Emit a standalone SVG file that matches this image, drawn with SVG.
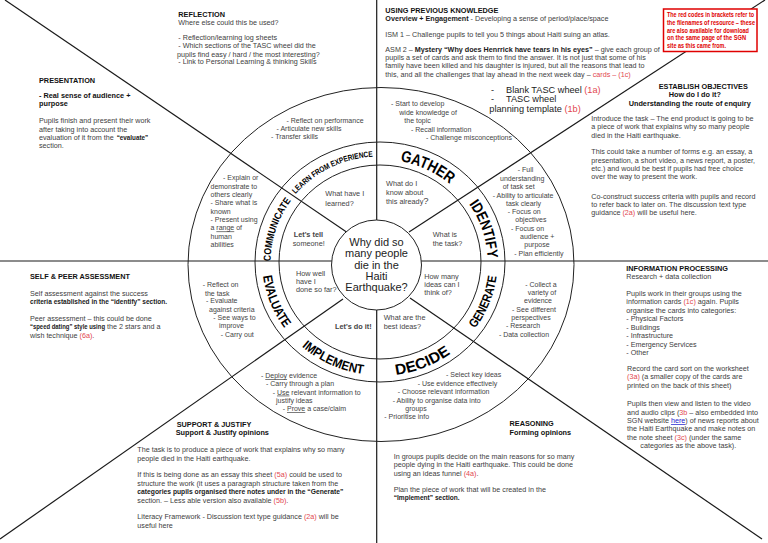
<svg xmlns="http://www.w3.org/2000/svg" width="768" height="543" viewBox="0 0 768 543">
<defs>
<style>
text { font-family: "Liberation Sans", Arial, sans-serif; }
.b7 { font-size: 7.2px; fill: #404040; }
.hd { font-size: 7.3px; font-weight: bold; fill: #111; }
.bd { font-weight: bold; fill: #1a1a1a; }
.red { fill: #e2474f; }
.w { font-size: 7px; fill: #444; }
.q { font-size: 7.3px; fill: #444; }
.ctr { font-size: 11px; fill: #222; text-anchor: middle; }
.ring { font-weight: bold; fill: #000; }
.ln { stroke: #1a1a1a; stroke-width: 1.2; fill: none; }
.circ { stroke: #222; stroke-width: 1; fill: none; }
.u { text-decoration: underline; }
.lg { font-size: 9.2px; fill: #222; }
.note { font-size: 6.3px; font-weight: bold; fill: #e00000; }
.mid { text-anchor: middle; }
</style>
<path id="pGather" d="M363.2,160.6 A107.2,102.7 0 0 1 473.8,212.2"/>
<path id="pIdentify" d="M444.8,179.7 A107.6,103.1 0 0 1 482.9,292.1"/>
<path id="pLearn" d="M282.8,212.4 A110.1,105.6 0 0 1 395.3,157.4"/>
<path id="pComm" d="M275.4,292.8 A109.4,104.9 0 0 1 314.0,178.3"/>
<path id="pEval" d="M265.7,235.0 A117.7,113.2 0 0 0 314.5,356.1"/>
<path id="pImpl" d="M277.9,318.3 A117.7,113.2 0 0 0 400.0,373.5"/>
<path id="pDecide" d="M354.2,373.2 A118.4,113.9 0 0 0 479.7,323.4"/>
<path id="pGen" d="M444.9,356.2 A117.5,113 0 0 0 494.3,235.6"/>
</defs>
<rect x="0" y="0" width="768" height="543" fill="#fff"/>

<g id="connectors">
<line class="ln" x1="376.7" y1="0" x2="376.7" y2="543"/>
<line class="ln" x1="0" y1="261" x2="768" y2="261"/>
<line class="ln" x1="5" y1="0" x2="348" y2="233"/>
<line class="ln" x1="765" y1="0" x2="409" y2="232"/>
<line class="ln" x1="0" y1="539" x2="343" y2="299"/>
<line class="ln" x1="762" y1="539" x2="410" y2="298"/>
</g>

<g id="wheel">
<ellipse class="circ" cx="381" cy="264.5" rx="193" ry="177"/>
<ellipse class="circ" cx="380" cy="262" rx="125" ry="120"/>
<ellipse class="circ" cx="380" cy="262" rx="101" ry="97"/>
<g id="ring-labels">
<text class="ring" font-size="16"><textPath href="#pGather" startOffset="50%" text-anchor="middle" textLength="55" lengthAdjust="spacingAndGlyphs">GATHER</textPath></text>
<text class="ring" font-size="15"><textPath href="#pIdentify" startOffset="50%" text-anchor="middle" textLength="58" lengthAdjust="spacingAndGlyphs">IDENTIFY</textPath></text>
<text class="ring" font-size="8"><textPath href="#pLearn" startOffset="50%" text-anchor="middle" textLength="88" lengthAdjust="spacingAndGlyphs">LEARN FROM EXPERIENCE</textPath></text>
<text class="ring" font-size="10"><textPath href="#pComm" startOffset="50%" text-anchor="middle" textLength="65" lengthAdjust="spacingAndGlyphs">COMMUNICATE</textPath></text>
<text class="ring" font-size="13"><textPath href="#pEval" startOffset="50%" text-anchor="middle" textLength="57" lengthAdjust="spacingAndGlyphs">EVALUATE</textPath></text>
<text class="ring" font-size="13"><textPath href="#pImpl" startOffset="50%" text-anchor="middle" textLength="68" lengthAdjust="spacingAndGlyphs">IMPLEMENT</textPath></text>
<text class="ring" font-size="15"><textPath href="#pDecide" startOffset="50%" text-anchor="middle" textLength="59" lengthAdjust="spacingAndGlyphs">DECIDE</textPath></text>
<text class="ring" font-size="12.5"><textPath href="#pGen" startOffset="50%" text-anchor="middle" textLength="57" lengthAdjust="spacingAndGlyphs">GENERATE</textPath></text>
</g>
<g id="center">
<circle cx="376.5" cy="265" r="45" fill="#fff" stroke="#222" stroke-width="1"/>
<text class="ctr" x="376.5" y="246">Why did so</text>
<text class="ctr" x="376.5" y="257.3">many people</text>
<text class="ctr" x="376.5" y="268.6">die in the</text>
<text class="ctr" x="376.5" y="279.9">Haiti</text>
<text class="ctr" x="376.5" y="291.2">Earthquake?</text>
</g>
<g id="questions">
<text class="q" x="325.3" y="196">What have I</text>
<text class="q" x="325.3" y="205.5">learned?</text>
<text class="q" x="386" y="186">What do I</text>
<text class="q" x="386" y="194.5">know about</text>
<text class="q" x="386" y="204">this already<tspan font-size="9.5">?</tspan></text>
<text class="q" x="432.7" y="236.8">What is</text>
<text class="q" x="432.7" y="245.5">the task?</text>
<text class="q bd" x="293.7" y="236.8">Let's tell</text>
<text class="q" x="292.7" y="245.5">someone!</text>
<text class="q" x="296" y="275.8">How well</text>
<text class="q" x="296" y="283.5">have I</text>
<text class="q" x="296" y="291.8">done so far?</text>
<text class="q" x="424.3" y="279">How many</text>
<text class="q" x="424.3" y="287">ideas can I</text>
<text class="q" x="424.3" y="295">think of?</text>
<text class="q" x="383.7" y="319.5">What are the</text>
<text class="q" x="383.7" y="328.5">best ideas?</text>
<text class="q bd" x="335" y="328.5">Let's do it!</text>
</g>
<g id="sector-learn">
<text class="w" x="286.5" y="122.5">- Reflect on performance</text>
<text class="w" x="276.5" y="130.8">- Articulate new skills</text>
<text class="w" x="271" y="139">- Transfer skills</text>
</g>
<g id="sector-communicate">
<text class="w" x="223" y="180">- Explain or</text>
<text class="w" x="210.5" y="188.5">demonstrate to</text>
<text class="w" x="210.5" y="197">others clearly</text>
<text class="w" x="210.5" y="205.3">- Share what is</text>
<text class="w" x="210.5" y="213.6">known</text>
<text class="w" x="210.5" y="222">- Present using</text>
<text class="w" x="210.5" y="230.4">a <tspan class="u">range</tspan> of</text>
<text class="w" x="210.5" y="238.8">human</text>
<text class="w" x="210.5" y="247.2">abilities</text>
</g>
<g id="sector-gather">
<text class="w" x="391" y="106">- Start to develop</text>
<text class="w" x="399.3" y="114.8">wide knowledge of</text>
<text class="w" x="404.3" y="123.2">the topic</text>
<text class="w" x="411" y="131.5">- Recall information</text>
<text class="w" x="426" y="140">- Challenge misconceptions</text>
</g>
<g id="sector-identify">
<text class="w" x="517.7" y="172">- Full</text>
<text class="w" x="500" y="181">understanding</text>
<text class="w" x="502.7" y="189.2">of task set</text>
<text class="w" x="492.7" y="197.5">- Ability to articulate</text>
<text class="w" x="506" y="205.6">task clearly</text>
<text class="w" x="507.7" y="214">- Focus on</text>
<text class="w" x="515.3" y="222.2">objectives</text>
<text class="w" x="511" y="230.5">- Focus on</text>
<text class="w" x="520" y="239">audience +</text>
<text class="w" x="524.3" y="247.4">purpose</text>
<text class="w" x="514.3" y="256">- Plan efficiently</text>
</g>
<g id="sector-generate">
<text class="w mid" x="541" y="287">- Collect a</text>
<text class="w mid" x="542" y="295.2">variety of</text>
<text class="w mid" x="538" y="303.4">evidence</text>
<text class="w mid" x="534" y="311.6">- See different</text>
<text class="w mid" x="531" y="319.8">perspectives</text>
<text class="w mid" x="523" y="328">- Research</text>
<text class="w mid" x="524" y="336.8">- Data collection</text>
</g>
<g id="sector-decide">
<text class="w" x="446" y="377">- Select key ideas</text>
<text class="w" x="417.7" y="385.5">- Use evidence effectively</text>
<text class="w" x="397.7" y="394">- Choose relevant information</text>
<text class="w" x="392.7" y="402.5">- Ability to organise data into</text>
<text class="w" x="405.3" y="410.8">groups</text>
<text class="w" x="384.3" y="419">- Prioritise info</text>
</g>
<g id="sector-implement">
<text class="w" x="261" y="378">- <tspan class="u">Deploy</tspan> evidence</text>
<text class="w" x="266" y="386.3">- Carry through a plan</text>
<text class="w" x="272.7" y="394.6">- <tspan class="u">Use</tspan> relevant information to</text>
<text class="w" x="276" y="402.8">justify ideas</text>
<text class="w" x="282.7" y="411">- <tspan class="u">Prove</tspan> a case/claim</text>
</g>
<g id="sector-evaluate">
<text class="w" x="202.7" y="287">- Reflect on</text>
<text class="w" x="205" y="295.5">the  task</text>
<text class="w" x="206" y="302.8">- Evaluate</text>
<text class="w" x="209" y="311.5">against criteria</text>
<text class="w" x="213.3" y="320">- See ways to</text>
<text class="w" x="219" y="328">improve</text>
<text class="w" x="220.7" y="337">- Carry out</text>
</g>
</g>

<g id="reflection">
<text class="hd" x="178.3" y="16.6">REFLECTION</text>
<text class="b7" x="178.3" y="25">Where else could this be used?</text>
<text class="b7" x="178.3" y="40.3">- Reflection/learning log sheets</text>
<text class="b7" x="178.3" y="48.3">- Which sections of the TASC wheel did the</text>
<text class="b7" x="177" y="56.6">pupils find easy / hard / the most interesting?</text>
<text class="b7" x="178.3" y="64.3">- Link to Personal Learning &amp; thinking Skills</text>
</g>

<g id="using-previous-knowledge">
<text class="hd" x="385.3" y="13.3">USING PREVIOUS KNOWLEDGE</text>
<text class="b7" x="385.3" y="21"><tspan class="bd">Overview + Engagement</tspan> - Developing a sense of period/place/space</text>
<text class="b7" x="385.3" y="37">ISM 1 – Challenge pupils to tell you 5 things about Haiti suing an atlas.</text>
<text class="b7" x="385.3" y="52">ASM 2 – <tspan class="bd">Mystery “Why does Henrrick have tears in his eyes”</tspan> – give each group of</text>
<text class="b7" x="385.3" y="60">pupils a set of cards and ask them to find the answer.  It is not just that some of his</text>
<text class="b7" x="385.3" y="68.3">family have been killed and his daughter is injured, but all the reasons that lead to</text>
<text class="b7" x="385.3" y="76.6">this, and all the challenges that lay ahead in the next week day – <tspan class="red">cards – (1c)</tspan></text>
<text class="lg" x="491" y="92.6">-</text>
<text class="lg" x="506" y="92.6">Blank TASC wheel <tspan class="red">(1a)</tspan></text>
<text class="lg" x="491" y="101.8">-</text>
<text class="lg" x="506" y="101.8">TASC wheel</text>
<text class="lg" x="489.3" y="111.8">planning template <tspan class="red">(1b)</tspan></text>
</g>

<g id="note-box">
<rect x="663.5" y="9" width="93.5" height="42.5" fill="#fff" stroke="#e00000" stroke-width="1.5"/>
<text class="note" x="667" y="16.5" textLength="87" lengthAdjust="spacingAndGlyphs">The red codes in brackets refer to</text>
<text class="note" x="667" y="24.5" textLength="88" lengthAdjust="spacingAndGlyphs">the filenames of resource – these</text>
<text class="note" x="667" y="32.5" textLength="82" lengthAdjust="spacingAndGlyphs">are also available for download</text>
<text class="note" x="667" y="40.3" textLength="79" lengthAdjust="spacingAndGlyphs">on the same page of the SGN</text>
<text class="note" x="667" y="48.3" textLength="59" lengthAdjust="spacingAndGlyphs">site as this came from.</text>
</g>

<g id="establish-objectives">
<text class="hd" x="658.7" y="88.5">ESTABLISH OBJECTIVES</text>
<text class="hd" x="668.7" y="97">How do I do it?</text>
<text class="hd" x="628.7" y="105.5">Understanding the route of enquiry</text>
<text class="b7" x="591.3" y="121">Introduce the task – The end product is going to be</text>
<text class="b7" x="591.3" y="129.3">a piece of work that explains why so many people</text>
<text class="b7" x="591.3" y="137.7">died in the Haiti earthquake.</text>
<text class="b7" x="591.3" y="154.3">This could take a number of forms e.g. an essay, a</text>
<text class="b7" x="591.3" y="162.7">presentation, a short video, a news report, a poster,</text>
<text class="b7" x="591.3" y="171">etc.) and would be best if pupils had free choice</text>
<text class="b7" x="591.3" y="179.3">over the way to present the work.</text>
<text class="b7" x="591.3" y="198.6">Co-construct success criteria with pupils and record</text>
<text class="b7" x="591.3" y="207">to refer back to later on.  The discussion text type</text>
<text class="b7" x="591.3" y="215.3">guidance <tspan class="red">(2a)</tspan> will be useful here.</text>
</g>

<g id="presentation">
<text class="hd" x="39" y="82.6">PRESENTATION</text>
<text class="hd" x="39" y="98.3">- Real sense of audience +</text>
<text class="hd" x="39" y="105.8">purpose</text>
<text class="b7" x="39" y="123.3">Pupils finish and present their work</text>
<text class="b7" x="39" y="131.6">after taking into account the</text>
<text class="b7" x="39" y="140">evaluation of it from the</text>
<text class="b7 bd" x="116.7" y="140" textLength="31.5" lengthAdjust="spacingAndGlyphs">“evaluate”</text>
<text class="b7" x="39" y="148.3">section.</text>
</g>

<g id="self-peer-assessment">
<text class="hd" x="30" y="279.3">SELF &amp; PEER ASSESSMENT</text>
<text class="b7" x="30" y="295.5">Self assessment against the success</text>
<text class="b7 bd" x="30" y="304.2" textLength="137" lengthAdjust="spacingAndGlyphs">criteria established in the “identify” section.</text>
<text class="b7" x="30" y="321">Peer assessment – this could be done</text>
<text class="b7 bd" x="30" y="329.3" textLength="75" lengthAdjust="spacingAndGlyphs">“speed dating” style using</text>
<text class="b7" x="107" y="329.3">the 2 stars and a</text>
<text class="b7" x="30" y="337.6">wish technique <tspan class="red">(6a)</tspan>.</text>
</g>

<g id="information-processing">
<text class="hd" x="626.3" y="271.3">INFORMATION PROCESSING</text>
<text class="b7" x="626.3" y="279.3">Research + data collection</text>
<text class="b7" x="626.3" y="296">Pupils work in their groups using the</text>
<text class="b7" x="626.3" y="304.3">information cards <tspan class="red">(1c)</tspan> again.  Pupils</text>
<text class="b7" x="626.3" y="312.6">organise the cards into categories:</text>
<text class="b7" x="626.3" y="321">- Physical Factors</text>
<text class="b7" x="626.3" y="329.6">- Buildings</text>
<text class="b7" x="626.3" y="338">- Infrastructure</text>
<text class="b7" x="626.3" y="346.6">- Emergency Services</text>
<text class="b7" x="626.3" y="354.6">- Other</text>
<text class="b7" x="627" y="370.6">Record the card sort on the worksheet</text>
<text class="b7" x="627" y="379.3"><tspan class="red">(3a)</tspan> (a smaller copy of the cards are</text>
<text class="b7" x="627" y="387.8">printed on the back of this sheet)</text>
<text class="b7" x="627" y="406.3">Pupils then view and listen to the video</text>
<text class="b7" x="627" y="414.6">and audio clips (<tspan class="red">3b</tspan> – also embedded into</text>
<text class="b7" x="627" y="423">SGN website <tspan class="u" fill="#1a1acc">here</tspan>) of news reports about</text>
<text class="b7" x="627" y="431.3">the Haiti Earthquake and make notes on</text>
<text class="b7" x="627" y="439.6">the note sheet <tspan class="red">(3c)</tspan> (under the same</text>
<text class="b7" x="640.3" y="447.6">categories as the above task).</text>
</g>

<g id="support-justify">
<text class="hd" x="176.7" y="426.5">SUPPORT &amp; JUSTIFY</text>
<text class="hd" x="175.7" y="435">Support  &amp; Justify opinions</text>
<text class="b7" x="137.3" y="452">The task is to produce a piece of work that explains why so many</text>
<text class="b7" x="137.3" y="460.5">people died in the Haiti earthquake.</text>
<text class="b7" x="137.3" y="477">If this is being done as an essay this sheet <tspan class="red">(5a)</tspan> could be used to</text>
<text class="b7" x="137.3" y="485.5">structure the work (it uses a paragraph structure taken from the</text>
<text class="b7 bd" x="137.3" y="494" textLength="206" lengthAdjust="spacingAndGlyphs">categories pupils organised there notes under in the “Generate”</text>
<text class="b7" x="137.3" y="502.5">section. – Less able version also available <tspan class="red">(5b)</tspan>.</text>
<text class="b7" x="137.3" y="519">Literacy Framework - Discussion text type guidance <tspan class="red">(2a)</tspan> will be</text>
<text class="b7" x="137.3" y="527.5">useful here</text>
</g>

<g id="reasoning">
<text class="hd" x="509.5" y="426.3">REASONING</text>
<text class="hd" x="509.5" y="434.6">Forming opinions</text>
<text class="b7" x="393.7" y="459">In groups pupils decide on the main reasons for so many</text>
<text class="b7" x="393.7" y="467.3">people dying in the Haiti earthquake.  This could be done</text>
<text class="b7" x="393.7" y="476">using an ideas funnel <tspan class="red">(4a)</tspan>.</text>
<text class="b7" x="393.7" y="491.5">Plan the piece of work that will be created in the</text>
<text class="b7 bd" x="393.7" y="500.3" textLength="66" lengthAdjust="spacingAndGlyphs">“Implement” section.</text>
</g>
</svg>
